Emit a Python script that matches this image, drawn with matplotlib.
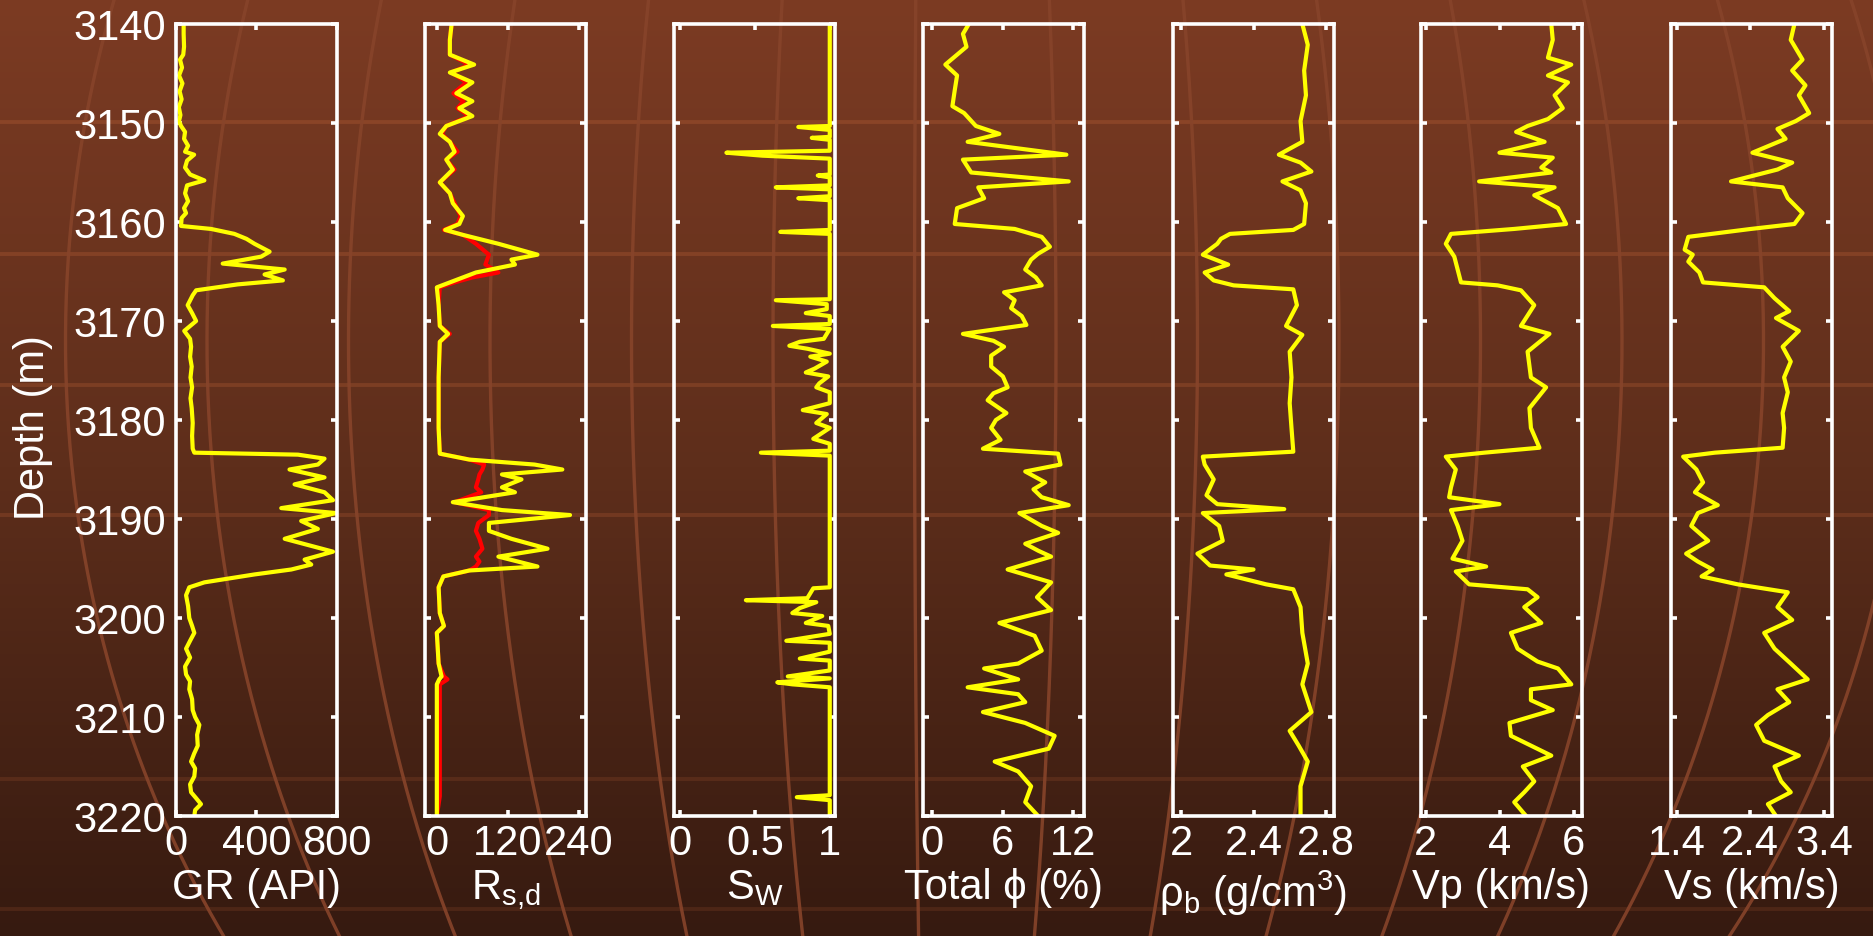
import numpy as np
import matplotlib.pyplot as plt

plt.rcParams['font.family'] = ['Liberation Sans', 'DejaVu Sans']
plt.rcParams['mathtext.fontset'] = 'custom'
plt.rcParams['mathtext.rm'] = 'Liberation Sans'
plt.rcParams['mathtext.it'] = 'Liberation Sans:italic'
plt.rcParams['mathtext.bf'] = 'Liberation Sans:bold'

# ================= DATOS =================
DEPTH_TICKS = [3140, 3150, 3160, 3170, 3180, 3190, 3200, 3210, 3220]

GR_DEPTH = [3140.0, 3141.0, 3142.3, 3143.1, 3143.6, 3144.4, 3145.2, 3146.0, 3146.8, 3147.6,
            3148.4, 3149.2, 3149.8, 3150.3, 3150.9, 3151.6, 3152.3, 3152.9, 3153.2, 3153.8,
            3154.5, 3155.2, 3155.8, 3156.3, 3157.1, 3157.9, 3158.6, 3159.1, 3159.6, 3160.4,
            3160.7, 3161.2, 3161.7, 3162.2, 3163.0, 3163.5, 3164.2, 3164.8, 3165.3, 3165.9,
            3166.3, 3166.9, 3167.4, 3168.4, 3169.2, 3170.0, 3171.0, 3171.8, 3172.6, 3173.6,
            3174.6, 3175.7, 3176.7, 3177.8, 3178.8, 3180.3, 3181.6, 3182.9, 3183.3, 3183.5,
            3183.9, 3184.5, 3185.0, 3185.8, 3186.5, 3187.3, 3188.1, 3188.9, 3189.4, 3190.2,
            3191.0, 3192.0, 3193.3, 3194.1, 3194.6, 3195.1, 3195.6, 3196.4, 3196.9, 3197.7,
            3198.8, 3200.0, 3200.8, 3201.5, 3202.3, 3203.1, 3204.0, 3204.9, 3205.7, 3206.4,
            3207.2, 3208.2, 3209.3, 3210.0, 3210.8, 3211.8, 3212.9, 3213.7, 3214.5, 3215.2,
            3216.0, 3216.8, 3217.6, 3218.2, 3218.8, 3219.4, 3220.0]
GR_API = [38, 38, 40, 36, 20, 30, 15, 32, 18, 28,
          14, 22, 15, 25, 45, 40, 60, 45, 90, 55,
          45, 70, 141, 55, 45, 60, 40, 50, 28, 25,
          174, 290, 350, 390, 465, 423, 232, 540, 440, 531,
          307, 100, 83, 58, 80, 100, 41, 70, 75, 70,
          78, 72, 80, 72, 78, 83, 80, 83, 91, 606,
          738, 705, 564, 738, 589, 738, 780, 523, 796, 622,
          705, 540, 780, 639, 672, 573, 390, 141, 66, 50,
          60, 66, 80, 91, 70, 50, 70, 45, 50, 70,
          66, 80, 83, 95, 116, 105, 108, 90, 75, 95,
          91, 70, 75, 100, 124, 95, 91]

R_DEPTH = [3140.0, 3141.6, 3143.1, 3144.1, 3144.9, 3145.9, 3147.0, 3147.8, 3148.5, 3149.3,
           3150.3, 3151.1, 3151.9, 3152.9, 3153.7, 3154.7, 3156.0, 3157.1, 3158.1, 3159.4,
           3160.2, 3160.8, 3161.3, 3162.2, 3163.3, 3163.8, 3164.3, 3165.1, 3165.6, 3166.1,
           3166.6, 3168.4, 3170.5, 3171.3, 3172.1, 3175.7, 3180.8, 3183.4, 3184.0, 3184.5,
           3185.0, 3185.5, 3186.0, 3186.8, 3187.3, 3188.3, 3189.1, 3189.6, 3190.4, 3191.2,
           3192.0, 3193.0, 3193.8, 3194.3, 3194.8, 3195.2, 3195.8, 3196.9, 3199.5, 3200.8,
           3201.5, 3204.6, 3205.9, 3206.2, 3206.7, 3218.0, 3220.0]
R_SHALLOW = [25, 22, 22, 63, 22, 60, 33, 60, 38, 60,
             16, 5, 22, 30, 16, 27, 5, 22, 27, 44,
             38, 14, 44, 104, 170, 126, 132, 66, 44, 22,
             0, 3, 5, 19, 5, 3, 3, 5, 55, 165,
             212, 110, 143, 110, 132, 27, 110, 225, 88, 88,
             126, 187, 104, 137, 170, 55, 11, 3, 5, 12,
             0, 3, 8, 4, 0, 0, 0]
R_DEEP = [25, 22, 22, 55, 25, 50, 28, 45, 35, 55,
          16, 8, 22, 35, 16, 30, 5, 22, 30, 40,
          35, 12, 44, 66, 88, 85, 82, 104, 60, 30,
          5, 3, 5, 22, 5, 3, 3, 5, 55, 80,
          77, 72, 70, 66, 75, 30, 88, 88, 70, 66,
          72, 77, 66, 72, 66, 55, 11, 3, 5, 12,
          0, 3, 12, 18, 5, 5, 0]

SW_DEPTH = [3140.0, 3150.3, 3150.4, 3150.7, 3151.4, 3151.5, 3151.7, 3152.8, 3153.0, 3153.3,
            3153.6, 3155.2, 3155.3, 3155.5, 3156.3, 3156.5, 3156.7, 3157.4, 3157.6, 3157.8,
            3160.8, 3161.0, 3161.2, 3167.8, 3167.9, 3168.3, 3168.8, 3169.2, 3169.5, 3170.3,
            3170.5, 3170.8, 3171.8, 3172.1, 3172.5, 3172.8, 3173.3, 3173.6, 3174.1, 3174.8,
            3175.2, 3175.6, 3176.3, 3176.7, 3177.2, 3178.3, 3179.0, 3179.4, 3180.3, 3180.8,
            3181.9, 3182.4, 3183.1, 3183.3, 3183.6, 3196.9, 3197.0, 3198.0, 3198.2, 3198.4,
            3199.0, 3199.5, 3199.8, 3200.5, 3200.8, 3201.6, 3202.3, 3202.5, 3203.4, 3204.1,
            3204.3, 3205.3, 3205.9, 3206.1, 3206.5, 3206.7, 3207.0, 3217.9, 3218.1, 3218.4,
            3220.0]
SW_VAL = [1.0, 1.0, 0.79, 1.0, 1.0, 0.88, 1.0, 1.0, 0.31, 0.55,
          1.0, 1.0, 0.92, 1.0, 1.0, 0.64, 1.0, 1.0, 0.79, 1.0,
          1.0, 0.67, 1.0, 1.0, 0.64, 0.98, 0.98, 0.84, 1.0, 1.0,
          0.62, 1.0, 0.96, 0.80, 0.73, 0.85, 1.0, 0.87, 0.98, 0.90,
          0.84, 0.99, 0.93, 0.91, 1.0, 1.0, 0.82, 0.98, 0.91, 1.0,
          0.89, 1.0, 1.0, 0.54, 1.0, 1.0, 0.89, 0.85, 0.44, 0.91,
          0.80, 0.75, 0.95, 0.84, 0.99, 1.0, 0.71, 1.0, 1.0, 0.80,
          1.0, 1.0, 0.72, 1.0, 0.65, 0.75, 1.0, 1.0, 0.78, 1.0,
          1.0]

PHI_DEPTH = [3140.0, 3141.0, 3142.3, 3144.1, 3145.2, 3146.7, 3148.3, 3149.0, 3150.3, 3151.1,
             3151.9, 3153.2, 3153.7, 3155.0, 3155.9, 3156.5, 3157.6, 3158.6, 3160.2, 3160.7,
             3161.5, 3162.5, 3163.2, 3163.8, 3164.8, 3165.6, 3166.4, 3167.1, 3167.9, 3168.7,
             3169.5, 3170.4, 3171.3, 3172.0, 3172.6, 3173.5, 3174.6, 3175.6, 3176.7, 3177.3,
             3178.0, 3179.3, 3180.0, 3180.8, 3182.0, 3182.9, 3183.4, 3184.5, 3185.2, 3186.3,
             3187.0, 3187.8, 3188.6, 3189.4, 3190.7, 3191.4, 3192.5, 3193.2, 3193.8, 3195.1,
             3196.4, 3197.9, 3199.2, 3200.5, 3201.8, 3203.3, 3204.6, 3205.1, 3206.2, 3207.0,
             3207.7, 3208.5, 3209.5, 3210.6, 3211.9, 3213.2, 3214.5, 3215.5, 3217.0, 3218.6,
             3220.0]
PHI_VAL = [3.1, 2.6, 2.9, 1.1, 2.1, 1.9, 1.7, 2.7, 3.7, 5.7,
           3.0, 11.4, 2.6, 3.3, 11.6, 3.9, 4.4, 2.1, 1.9, 7.0,
           9.3, 10.0, 9.0, 8.4, 7.9, 8.8, 9.3, 6.1, 7.0, 6.7,
           7.6, 8.0, 2.6, 5.2, 6.1, 5.0, 5.0, 6.0, 6.4, 5.2,
           4.7, 6.3, 5.4, 5.0, 5.8, 4.3, 10.7, 10.9, 7.9, 9.6,
           8.6, 9.3, 11.6, 7.4, 9.3, 10.7, 7.9, 9.0, 10.1, 6.4,
           10.1, 8.9, 10.1, 5.7, 8.7, 9.3, 7.3, 4.4, 7.3, 3.0,
           7.3, 7.9, 4.3, 7.9, 10.4, 9.9, 5.3, 7.3, 8.4, 7.9,
           9.0]

RHO_DEPTH = [3140.0, 3142.1, 3144.7, 3147.2, 3149.8, 3151.9, 3153.2, 3154.0, 3154.9, 3155.9,
             3156.8, 3158.1, 3160.2, 3160.8, 3161.2, 3161.7, 3162.2, 3163.3, 3164.3, 3165.1,
             3165.9, 3166.4, 3166.8, 3168.4, 3170.5, 3171.4, 3173.1, 3175.7, 3178.3, 3180.8,
             3183.2, 3183.7, 3184.5, 3186.0, 3187.6, 3188.5, 3189.0, 3189.4, 3190.7, 3192.2,
             3193.5, 3194.7, 3195.1, 3195.6, 3196.6, 3197.1, 3198.9, 3201.5, 3204.6, 3206.7,
             3209.5, 3211.4, 3212.9, 3214.5, 3217.0, 3220.0]
RHO_VAL = [2.67, 2.70, 2.68, 2.69, 2.66, 2.67, 2.54, 2.66, 2.72, 2.56,
           2.66, 2.69, 2.68, 2.62, 2.27, 2.22, 2.20, 2.12, 2.26, 2.13,
           2.18, 2.29, 2.62, 2.64, 2.58, 2.67, 2.60, 2.61, 2.60, 2.61,
           2.62, 2.12, 2.13, 2.18, 2.14, 2.20, 2.57, 2.12, 2.21, 2.23,
           2.09, 2.16, 2.40, 2.25, 2.47, 2.62, 2.66, 2.67, 2.70, 2.67,
           2.72, 2.60, 2.65, 2.70, 2.66, 2.66]

VP_DEPTH = [3140.0, 3141.6, 3143.4, 3144.1, 3145.2, 3145.9, 3147.2, 3148.5, 3149.6, 3150.3,
            3150.9, 3151.9, 3153.0, 3153.5, 3154.5, 3155.0, 3155.9, 3156.5, 3157.3, 3158.6,
            3160.2, 3160.7, 3161.2, 3162.2, 3163.5, 3164.8, 3166.1, 3166.4, 3166.9, 3168.4,
            3170.5, 3171.3, 3173.1, 3175.7, 3176.7, 3178.8, 3180.8, 3182.8, 3183.3, 3183.7,
            3185.0, 3186.8, 3187.8, 3188.5, 3189.1, 3190.7, 3192.2, 3194.0, 3194.8, 3195.3,
            3196.6, 3197.1, 3197.9, 3198.9, 3200.5, 3201.5, 3203.1, 3204.4, 3205.1, 3206.7,
            3207.2, 3208.3, 3209.3, 3210.6, 3211.9, 3213.9, 3215.0, 3216.5, 3217.6, 3218.6,
            3220.0]
VP_VAL = [5.39, 5.43, 5.30, 5.93, 5.30, 5.84, 5.48, 5.70, 5.30, 4.75,
          4.44, 5.21, 3.99, 5.43, 5.12, 5.39, 3.44, 5.48, 4.93, 5.57,
          5.79, 4.39, 2.68, 2.54, 2.77, 2.86, 2.95, 3.94, 4.57, 4.93,
          4.57, 5.34, 4.75, 4.84, 5.25, 4.80, 4.84, 5.07, 3.58, 2.54,
          2.81, 2.68, 2.63, 3.99, 2.68, 2.86, 2.99, 2.72, 3.63, 2.81,
          3.17, 4.75, 5.02, 4.66, 5.12, 4.30, 4.48, 5.02, 5.57, 5.93,
          4.84, 4.84, 5.43, 4.26, 4.30, 5.39, 4.62, 4.93, 4.66, 4.39,
          4.71]

VS_DEPTH = [3140.0, 3141.6, 3143.6, 3144.7, 3146.2, 3147.2, 3149.0, 3149.8, 3150.6, 3151.6,
            3153.0, 3154.0, 3154.7, 3155.9, 3156.5, 3157.6, 3159.1, 3160.2, 3160.7, 3161.5,
            3162.8, 3163.3, 3164.0, 3165.1, 3166.1, 3166.6, 3167.7, 3169.0, 3169.7, 3171.0,
            3172.6, 3174.1, 3175.7, 3177.2, 3179.3, 3180.8, 3182.8, 3183.3, 3183.7, 3185.0,
            3186.3, 3187.3, 3188.6, 3189.4, 3190.7, 3192.2, 3193.5, 3194.3, 3195.1, 3195.8,
            3196.6, 3197.4, 3198.9, 3200.2, 3201.5, 3203.1, 3204.6, 3206.2, 3207.2, 3208.5,
            3209.8, 3210.8, 3212.4, 3213.9, 3215.0, 3216.5, 3217.6, 3218.8, 3220.0]
VS_VAL = [3.00, 2.95, 3.11, 2.97, 3.15, 3.06, 3.20, 3.02, 2.77, 2.88,
          2.43, 2.97, 2.77, 2.14, 2.84, 2.91, 3.11, 3.00, 2.41, 1.56,
          1.51, 1.62, 1.56, 1.71, 1.76, 2.59, 2.73, 2.93, 2.75, 3.06,
          2.84, 2.95, 2.86, 2.91, 2.84, 2.86, 2.84, 1.92, 1.49, 1.67,
          1.76, 1.65, 1.96, 1.69, 1.60, 1.83, 1.53, 1.69, 1.89, 1.74,
          2.23, 2.91, 2.77, 2.97, 2.59, 2.73, 2.95, 3.18, 2.77, 2.93,
          2.64, 2.48, 2.59, 3.06, 2.73, 2.82, 2.95, 2.64, 2.75]

XLIMS = [(0, 800), (-20, 252), (-0.04, 1.035), (-0.8, 12.9),
         (1.955, 2.845), (1.87, 6.22), (1.325, 3.51)]
XTICKS = [[0, 400, 800], [0, 120, 240], [0, 0.5, 1], [0, 6, 12],
          [2, 2.4, 2.8], [2, 4, 6], [1.4, 2.4, 3.4]]
XTICK_LABELS = [['0', '400', '800'], ['0', '120', '240'], ['0', '0.5', '1'],
                ['0', '6', '12'], ['2', '2.4', '2.8'], ['2', '4', '6'],
                ['1.4', '2.4', '3.4']]
XLABELS = ['GR (API)', r'R$_{\mathrm{s{,}d}}$', r'S$_{\mathrm{W}}$', 'Total \u03d5 (%)',
           r'$\mathrm{\rho}_{\mathrm{b}}$ (g/cm$^{\mathrm{3}}$)', 'Vp (km/s)', 'Vs (km/s)']

CURVES = [
    [(GR_DEPTH, GR_API, 'yellow')],
    [(R_DEPTH, R_DEEP, 'red'), (R_DEPTH, R_SHALLOW, 'yellow')],
    [(SW_DEPTH, SW_VAL, 'yellow')],
    [(PHI_DEPTH, PHI_VAL, 'yellow')],
    [(RHO_DEPTH, RHO_VAL, 'yellow')],
    [(VP_DEPTH, VP_VAL, 'yellow')],
    [(VS_DEPTH, VS_VAL, 'yellow')],
]

# ================= LAYOUT (pixeles) =================
W, H = 1874, 937
PANEL_LEFT = [176, 425, 674, 923, 1173, 1421, 1671]
PANEL_W = 161
PANEL_TOP, PANEL_BOT = 25, 817
FS = 30


def fondo(fig):
    bg = fig.add_axes([0, 0, 1, 1], zorder=-10)
    bg.set_xlim(0, W)
    bg.set_ylim(H, 0)
    bg.axis('off')
    # degradado vertical marron
    t = np.linspace(0, 1, 400)[:, None]
    top = np.array([124, 59, 35]) / 255
    mid = np.array([94, 46, 27]) / 255
    bot = np.array([54, 26, 16]) / 255
    col = np.where(t < 0.5, top + (mid - top) * (t / 0.5), mid + (bot - mid) * ((t - 0.5) / 0.5))
    img = np.repeat(col[:, None, :], 2, axis=1)
    bg.imshow(img, extent=[0, W, H, 0], aspect='auto', interpolation='bilinear')
    # bandas horizontales
    for yy, a in zip([123, 255, 386, 516, 780, 910], [0.45, 0.42, 0.38, 0.33, 0.22, 0.2]):
        bg.axhline(yy, color='#A55530', lw=2.8, alpha=a)
    # meridianos curvos de la plantilla
    ys = np.linspace(0, H, 200)
    fac = np.sqrt(1 - ((ys - 342) / 1036.0) ** 2)
    for k in range(-1, 13):
        xm = 207 + 141.5 * k
        bg.plot(937 + (xm - 937) * fac, ys, color='#87442A', lw=2.4, alpha=0.9)


def main():
    fig = plt.figure(figsize=(W / 100, H / 100), dpi=100)
    fondo(fig)

    for i in range(7):
        rect = [PANEL_LEFT[i] / W, 1 - PANEL_BOT / H, PANEL_W / W, (PANEL_BOT - PANEL_TOP) / H]
        ax = fig.add_axes(rect)
        ax.patch.set_alpha(0)
        for d, v, c in CURVES[i]:
            ax.plot(v, d, color=c, lw=3.0, solid_joinstyle='round')
        ax.set_xlim(*XLIMS[i])
        ax.set_ylim(3220, 3140)
        ax.set_xticks(XTICKS[i])
        ax.set_xticklabels(XTICK_LABELS[i])
        ax.set_yticks(DEPTH_TICKS)
        for s in ax.spines.values():
            s.set_color('white')
            s.set_linewidth(2.6)
        ax.tick_params(axis='both', which='both', direction='in', colors='white',
                       length=4.5, width=2.6, top=True, right=True, labelsize=FS)
        ax.tick_params(axis='x', pad=5)
        ax.tick_params(axis='y', pad=7)
        if i > 0:
            ax.set_yticklabels([])
        ax.set_xlabel(XLABELS[i], fontsize=FS, color='white', labelpad=3)

    fig.text(33 / W, 1 - 428 / H, 'Depth (m)', rotation=90, ha='center', va='center',
             fontsize=FS, color='white')

    fig.savefig('out.png', dpi=100)
    plt.close(fig)


if __name__ == '__main__':
    main()
